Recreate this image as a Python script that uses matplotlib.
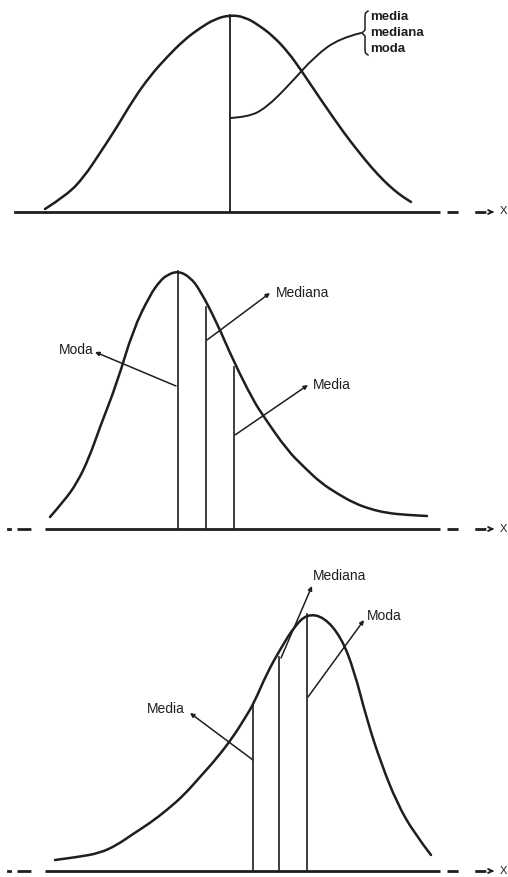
import matplotlib
matplotlib.use("Agg")
from matplotlib import pyplot as plt
from matplotlib.path import Path
from matplotlib.patches import PathPatch

plt.rcParams['font.family'] = ['Liberation Sans Narrow', 'Liberation Sans', 'DejaVu Sans']

INK = '#1e1e1e'

# --- symmetric curve (top) ---
sym_x = [45, 67, 84, 100, 117, 133, 150, 167, 184, 200, 215, 230,
         245, 260, 274, 288, 301, 321, 344, 358, 371, 384, 394, 403, 411]
sym_y = [209, 195, 177, 153, 127, 100, 76, 57, 40, 28, 19, 15,
         17, 26, 37, 52, 70, 100, 133, 151, 167, 181, 190, 197, 202]
sym_base = 212
sym_center = 230
sym_top = 15
sym_labels = ['media', 'mediana', 'moda']

# --- right-skewed curve (middle) ---
rs_x = [50, 64, 77, 89, 100, 117, 133, 150, 160, 167, 178, 190, 200, 217,
        233, 253, 264, 287, 305, 321, 338, 354, 370, 387, 407, 427]
rs_y = [517, 501, 483, 458, 427, 383, 330, 295, 281, 275, 271, 277, 290, 323,
        360, 400, 417, 450, 468, 483, 494, 503, 509, 513, 515, 516]
rs_base = 529
rs_names = ['Moda', 'Mediana', 'Media']
rs_pos = [178, 206, 234]
rs_tops = [271, 307, 367]

# --- left-skewed curve (bottom) ---
ls_x = [55, 78, 100, 117, 133, 150, 167, 184, 200, 217, 233, 245, 254,
        267, 281, 294, 307, 324, 341, 354, 367, 381, 397, 414, 431]
ls_y = [860, 857, 853, 845, 834, 823, 810, 795, 777, 758, 737, 718, 703,
        673, 648, 627, 614, 617, 637, 670, 720, 763, 803, 833, 855]
ls_base = 871
ls_names = ['Media', 'Mediana', 'Moda']
ls_pos = [253, 279, 307]
ls_tops = [706, 657, 614]

# annotation leaders: (name, start on line, arrow tip, text anchor)
rs_notes = [('Moda', (176, 386), (95, 352), (59, 350)),
            ('Mediana', (207, 340), (270, 293), (276, 293)),
            ('Media', (235, 435), (308, 385), (313, 385))]
ls_notes = [('Media', (253, 760), (190, 713), (147, 709)),
            ('Mediana', (281, 658), (312, 586), (313, 576)),
            ('Moda', (308, 697), (364, 620), (367, 616))]

fig = plt.figure(figsize=(5.08, 8.77), dpi=100)
ax = fig.add_axes([0, 0, 1, 1])
ax.set_xlim(0, 508)
ax.set_ylim(877, 0)
ax.axis('off')


def smooth_curve(xs, ys, lw=1.8):
    # quadratic B-spline: read points act as control points
    pts = list(zip(xs, ys))
    verts = [pts[0]]
    codes = [Path.MOVETO]
    for i in range(1, len(pts) - 1):
        mid = ((pts[i][0] + pts[i + 1][0]) / 2, (pts[i][1] + pts[i + 1][1]) / 2)
        if i == len(pts) - 2:
            mid = pts[-1]
        verts += [pts[i], mid]
        codes += [Path.CURVE3, Path.CURVE3]
    ax.add_patch(PathPatch(Path(verts, codes), fill=False, edgecolor=INK,
                           lw=lw, capstyle='round', joinstyle='round'))


def axis_line(y, left_dash=True):
    ax.plot([45, 440], [y, y], color=INK, lw=2.0, solid_capstyle='butt')
    ax.plot([447, 488], [y, y], color=INK, lw=2.0, linestyle=(0, (4, 6)))
    if left_dash:
        ax.plot([8, 10], [y, y], color=INK, lw=2.0)
        ax.plot([17, 40], [y, y], color=INK, lw=2.0, linestyle=(0, (5, 6)))
    ax.annotate('', xy=(497, y), xytext=(488, y),
                arrowprops=dict(arrowstyle='->', color=INK, lw=1.4,
                                mutation_scale=7))


def leader(start, tip, text, anchor):
    ax.annotate('', xy=tip, xytext=start,
                arrowprops=dict(arrowstyle='-|>', color=INK, lw=1.1,
                                mutation_scale=6, shrinkA=0, shrinkB=0))
    ax.text(anchor[0], anchor[1], text, fontsize=10, color=INK,
            ha='left', va='center')


# top panel
smooth_curve(sym_x, sym_y)
ax.plot([15, 45], [sym_base, sym_base], color=INK, lw=2.0)
axis_line(sym_base, left_dash=False)
ax.text(503, sym_base - 1, 'X', fontsize=8, color=INK, ha='center', va='center')
ax.plot([sym_center, sym_center], [sym_top, sym_base], color=INK, lw=1.3)
# connector from the centre line to the brace
con_x = [230, 248, 266, 290, 315, 340, 361]
con_y = [118, 117, 108, 84, 56, 38, 33]
smooth_curve(con_x, con_y, lw=1.4)
brace_x = [368, 365.5, 365, 365, 362, 365, 365, 365.5, 368]
brace_y = [11, 13, 16, 30, 33, 36, 50, 53, 55]
ax.plot(brace_x, brace_y, color=INK, lw=1.1)
for i, lab in enumerate(sym_labels):
    ax.text(370, 17 + i * 16, lab, fontsize=9.5, color=INK,
            ha='left', va='center', fontweight='bold')

# middle panel
smooth_curve(rs_x, rs_y)
axis_line(rs_base)
ax.text(503, rs_base, 'X', fontsize=8, color=INK, ha='center', va='center')
for x, top in zip(rs_pos, rs_tops):
    ax.plot([x, x], [top, rs_base], color=INK, lw=1.2)
for name, start, tip, anchor in rs_notes:
    leader(start, tip, name, anchor)

# bottom panel
smooth_curve(ls_x, ls_y)
axis_line(ls_base)
ax.text(503, ls_base, 'X', fontsize=8, color=INK, ha='center', va='center')
for x, top in zip(ls_pos, ls_tops):
    ax.plot([x, x], [top, ls_base], color=INK, lw=1.2)
for name, start, tip, anchor in ls_notes:
    leader(start, tip, name, anchor)

fig.savefig('out.png', dpi=100)
